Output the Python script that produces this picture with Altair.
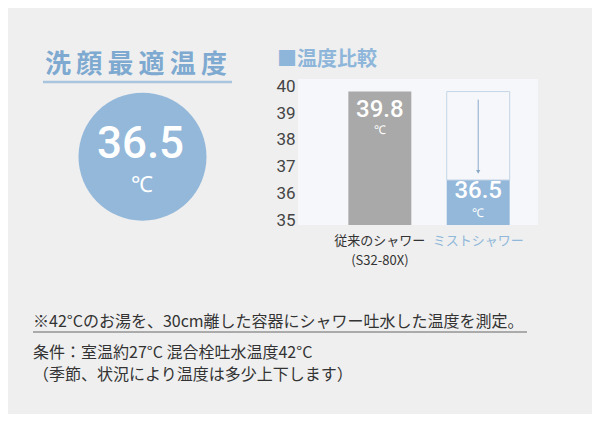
import altair as alt
import pandas as pd

# ---- data ----
categories = ["従来のシャワー", "ミストシャワー"]
sublabels = ["(S32-80X)", ""]
temps = [39.8, 36.5]
bar_colors = ["#a9a9a9", "#93b8da"]
y_ticks = [35, 36, 37, 38, 39, 40]
optimal_temp = "36.5"
headline = "洗顔最適温度"
chart_title = "■温度比較"
notes = [
    "※42°Cのお湯を、30cm離した容器にシャワー吐水した温度を測定。",
    "条件：室温約27°C 混合栓吐水温度42°C",
    "（季節、状況により温度は多少上下します）",
]

W, H = 240, 146
JP = "Noto Sans CJK JP"
NUM = "Roboto"
BLUE = "#93b8da"

df = pd.DataFrame({"cat": categories, "temp": temps, "label": [f"{t:.1f}" for t in temps]})
drop = pd.DataFrame({"cat": [categories[1]], "top": [temps[0]], "bottom": [temps[1]],
                     "a_top": [temps[0] - 0.3], "a_bot": [temps[1] + 0.3]})
one = pd.DataFrame({"k": [0]})

yscale = alt.Scale(domain=[34.82, 40.27], zero=False, nice=False)
xscale = alt.Scale(domain=categories, paddingInner=0.36, paddingOuter=0.4, align=0.64)

label_expr = "datum.value == '%s' ? ['%s', '%s'] : datum.label" % (categories[0], categories[0], sublabels[0])
xaxis = alt.Axis(title=None, labelAngle=0, ticks=False, domain=False, grid=False,
                 labelFont=JP, labelFontSize=13, labelLineHeight=20, labelPadding=9,
                 labelBaseline="top", labelExpr=label_expr,
                 labelColor={"condition": {"test": "datum.value == '%s'" % categories[1], "value": "#8fb8da"},
                             "value": "#333333"})
yaxis = alt.Axis(title=None, values=y_ticks, ticks=False, domain=False, grid=False,
                 labelFont=NUM, labelFontSize=17, labelColor="#444444", labelPadding=3)

X = alt.X("cat:N", scale=xscale, axis=xaxis)

bars = alt.Chart(df).mark_bar().encode(
    x=X,
    y=alt.Y("temp:Q", scale=yscale, axis=yaxis, stack=None),
    y2=alt.value(H),
    color=alt.Color("cat:N", scale=alt.Scale(domain=categories, range=bar_colors), legend=None),
)

outline = alt.Chart(drop).mark_bar(fillOpacity=0, stroke="#c4d5e6", strokeWidth=1).encode(
    x=X, y=alt.Y("top:Q", scale=yscale, axis=yaxis, stack=None), y2="bottom:Q"
)
arrow = alt.Chart(drop).mark_rule(color="#8aa9c8", strokeWidth=1).encode(
    x=X, y=alt.Y("a_top:Q", scale=yscale, axis=yaxis), y2="a_bot:Q"
)
head = alt.Chart(drop).mark_point(shape="triangle-down", filled=True, size=18, color="#8aa9c8", opacity=1).encode(
    x=X, y=alt.Y("a_bot:Q", scale=yscale, axis=yaxis)
)

def bar_text(i, dy_num, dy_unit):
    sub = df[df["cat"] == categories[i]]
    base = alt.Chart(sub).encode(x=X, y=alt.Y("temp:Q", scale=yscale, axis=yaxis))
    num = base.mark_text(font=NUM, fontSize=24, fontWeight=500, color="white", baseline="middle",
                         dy=dy_num).encode(text="label:N")
    unit = base.mark_text(font=NUM, fontSize=12, fontWeight=500, color="white", baseline="middle",
                          dy=dy_unit, text="℃")
    return num + unit

def txt(text, x, y, size, color, font=JP, align="left", weight="normal"):
    return alt.Chart(one).mark_text(text=text, fontSize=size, color=color, font=font, align=align,
                                    baseline="middle", fontWeight=weight).encode(
        x=alt.value(x), y=alt.value(y))

def rule(x1, x2, y, color, width):
    return alt.Chart(one).mark_rule(color=color, strokeWidth=width).encode(
        x=alt.value(x1), x2=alt.value(x2), y=alt.value(y))

circle = alt.Chart(one).mark_point(shape="circle", filled=True, opacity=1, size=128 * 128, color=BLUE).encode(
    x=alt.value(-155.5), y=alt.value(77.7))

spaced = "\u2009".join(list(headline))

layers = [
    bars, outline, arrow, head,
    bar_text(0, 18, 38), bar_text(1, 11, 33),
    txt(spaced, -162, -14, 26, "#7ea9d0", align="center", weight="bold"),
    rule(-255, -66, 3, "#a9c4dd", 2.5),
    circle,
    txt(optimal_temp, -157.5, 66, 44, "white", font=NUM, align="center", weight=500),
    txt("℃", -156, 106, 22, "white", font=NUM, align="center"),
    txt(chart_title, -21, -19, 20, "#8db6da", weight="bold"),
    txt(notes[0], -265, 243, 16, "#333333"),
    rule(-265, 229, 253, "#666666", 1),
    txt(notes[1], -265, 274, 16, "#333333"),
    txt(notes[2], -265, 296, 16, "#333333"),
]

chart = alt.layer(*layers).properties(
    width=W, height=H,
    padding={"left": 290, "top": 71, "right": 54, "bottom": 189},
    autosize=alt.AutoSizeParams(type="none"),
    background="#efefef",
).configure_view(fill="#f6f7fa", stroke=None)

chart.save("out.html", embed_options={"renderer": "svg", "actions": False})
